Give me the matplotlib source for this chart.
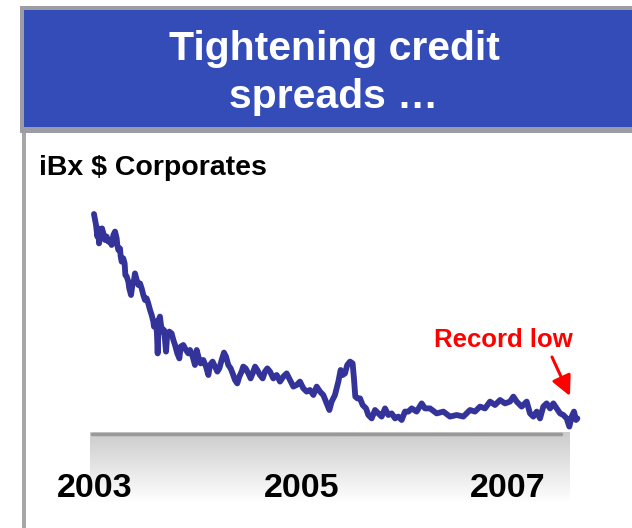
import numpy as np
import matplotlib
matplotlib.use("Agg")
import matplotlib.pyplot as plt
from matplotlib.patches import Rectangle

plt.rcParams['font.family'] = ['Liberation Sans', 'DejaVu Sans']

# iBx $ Corporates spread (bp)
dates = [2002.990, 2003.010, 2003.023, 2003.032, 2003.039, 2003.055, 2003.068, 2003.081,
         2003.097, 2003.113, 2003.129, 2003.145, 2003.161, 2003.178, 2003.194, 2003.210,
         2003.216, 2003.226, 2003.242, 2003.249, 2003.258, 2003.274, 2003.287, 2003.294,
         2003.307, 2003.323, 2003.332, 2003.349, 2003.362, 2003.378, 2003.387, 2003.404,
         2003.420, 2003.436, 2003.452, 2003.468, 2003.484, 2003.500, 2003.516, 2003.533,
         2003.549, 2003.565, 2003.571, 2003.591, 2003.600, 2003.607, 2003.617, 2003.629,
         2003.639, 2003.655, 2003.668, 2003.678, 2003.688, 2003.700, 2003.720, 2003.742,
         2003.759, 2003.775, 2003.797, 2003.817, 2003.830, 2003.855, 2003.881, 2003.904,
         2003.920, 2003.946, 2003.968, 2003.985, 2004.001, 2004.023, 2004.049, 2004.075,
         2004.098, 2004.114, 2004.139, 2004.162, 2004.185, 2004.204, 2004.227, 2004.249,
         2004.269, 2004.291, 2004.314, 2004.333, 2004.356, 2004.378, 2004.398, 2004.420,
         2004.436, 2004.459, 2004.485, 2004.507, 2004.527, 2004.550, 2004.572, 2004.598,
         2004.624, 2004.646, 2004.669, 2004.695, 2004.727, 2004.760, 2004.792, 2004.824,
         2004.856, 2004.889, 2004.921, 2004.953, 2004.985, 2005.018, 2005.050, 2005.082,
         2005.115, 2005.147, 2005.179, 2005.211, 2005.244, 2005.270, 2005.292, 2005.324,
         2005.357, 2005.379, 2005.398, 2005.421, 2005.443, 2005.470, 2005.495, 2005.508,
         2005.521, 2005.541, 2005.567, 2005.592, 2005.625, 2005.647, 2005.680, 2005.712,
         2005.744, 2005.776, 2005.809, 2005.841, 2005.873, 2005.906, 2005.938, 2005.970,
         2006.002, 2006.035, 2006.067, 2006.115, 2006.164, 2006.196, 2006.245, 2006.309,
         2006.374, 2006.438, 2006.503, 2006.567, 2006.632, 2006.680, 2006.729, 2006.777,
         2006.826, 2006.874, 2006.923, 2006.971, 2007.019, 2007.052, 2007.084, 2007.132,
         2007.181, 2007.213, 2007.245, 2007.278, 2007.310, 2007.342, 2007.374, 2007.407,
         2007.439, 2007.471, 2007.504, 2007.536, 2007.568, 2007.594, 2007.617, 2007.639,
         2007.659, 2007.672]
spread = [179.5, 174.0, 168.2, 172.3, 164.8, 170.7, 172.3, 169.8,
          166.5, 168.2, 165.7, 166.5, 164.0, 169.0, 170.7, 167.3,
          164.0, 161.5, 162.3, 158.2, 155.7, 157.3, 154.8, 149.0,
          148.2, 145.7, 142.3, 139.0, 144.0, 146.5, 149.8, 146.5,
          144.0, 144.8, 142.3, 139.0, 136.5, 137.3, 134.8, 131.5,
          129.0, 125.7, 123.2, 125.7, 119.8, 109.8, 126.5, 128.2,
          124.0, 120.7, 121.5, 116.5, 110.7, 119.8, 120.7, 119.8,
          116.5, 114.0, 109.8, 107.3, 113.2, 114.0, 111.5, 109.8,
          111.5, 108.2, 104.0, 111.5, 108.2, 104.8, 106.5, 103.2,
          99.0, 104.0, 105.7, 103.2, 100.7, 102.3, 106.5, 110.2,
          108.2, 104.0, 102.3, 99.8, 96.5, 94.8, 98.2, 100.7,
          103.2, 102.3, 99.8, 97.3, 99.8, 103.2, 101.5, 99.0,
          97.3, 100.7, 102.3, 100.7, 97.3, 99.0, 95.7, 98.2,
          99.8, 96.5, 93.2, 94.0, 95.7, 92.3, 90.7, 91.5,
          89.0, 93.2, 90.7, 89.0, 84.8, 81.5, 85.7, 89.0,
          95.7, 101.5, 99.0, 99.8, 104.0, 105.7, 104.8, 97.3,
          88.2, 87.3, 87.3, 84.0, 82.3, 79.0, 77.3, 81.5,
          79.8, 78.2, 82.3, 79.0, 79.8, 77.3, 78.2, 76.5,
          80.7, 80.7, 82.3, 80.7, 84.8, 82.3, 82.3, 79.8,
          80.7, 78.2, 79.0, 78.2, 81.5, 80.7, 83.2, 82.3,
          85.7, 84.0, 86.5, 84.8, 85.7, 88.2, 85.7, 83.2,
          85.7, 79.8, 78.2, 80.7, 77.3, 83.2, 84.8, 82.3,
          84.8, 82.3, 79.8, 79.0, 77.3, 73.2, 78.2, 80.7,
          76.5, 77.3]

year_ticks = [2003, 2005, 2007]
year_labels = ['2003', '2005', '2007']

title_lines = ['Tightening credit', 'spreads \u2026']
subtitle = 'iBx $ Corporates'
note = 'Record low'

W, H = 632, 528
fig = plt.figure(figsize=(W / 100, H / 100), dpi=100)

# background decoration, in pixel units
deco = fig.add_axes([0, 0, 1, 1])
deco.set_xlim(0, W)
deco.set_ylim(H, 0)
deco.axis('off')

deco.add_patch(Rectangle((20, 6), W, 127, facecolor='#9c9ca4', edgecolor='none'))
deco.add_patch(Rectangle((24, 10), W, 117, facecolor='#334cb7', edgecolor='none'))
deco.add_patch(Rectangle((22, 133), 3.5, H, facecolor='#a6a6a6', edgecolor='none'))

deco.text(334, 60, title_lines[0], color='white', fontsize=29.5, fontweight='bold',
          ha='center', va='baseline')
deco.text(334, 108, title_lines[1], color='white', fontsize=29.5, fontweight='bold',
          ha='center', va='baseline')
deco.text(39, 175, subtitle, color='black', fontsize=20.5, fontweight='bold',
          ha='left', va='baseline')

# shaded floor under the axis
grad = np.linspace(0.80, 1.0, 64)
rgb = np.dstack([grad, grad, grad]).reshape(64, 1, 3)
deco.imshow(rgb, extent=[90, 570, 503, 432], origin='upper', aspect='auto',
            interpolation='bilinear', zorder=1)
deco.plot([92, 561], [433.5, 433.5], color='#999999', lw=2.5,
          solid_capstyle='round', zorder=2)

# data axes
ax = fig.add_axes([90 / W, (H - 433) / H, 490 / W, 233 / H])
ax.patch.set_alpha(0)
ax.set_xlim(2002.9516, 2007.6973)
ax.set_ylim(70, 186.5)
for s in ax.spines.values():
    s.set_visible(False)
ax.set_yticks([])
ax.set_xticks(year_ticks)
ax.set_xticklabels(year_labels, fontsize=24.5, fontweight='bold')
ax.tick_params(axis='x', length=0, pad=29)

ax.plot(dates, spread, color='#333399', lw=4.2, solid_joinstyle='round',
        solid_capstyle='round', clip_on=False, zorder=5)

ax.text(2006.952, 113, note, color='#ff0000', fontsize=18.5, fontweight='bold',
        ha='center', va='baseline')
ax.annotate('', xy=(2007.60, 88.5), xytext=(2007.426, 108),
            arrowprops=dict(arrowstyle='-|>', color='#ff0000', lw=2.2,
                            mutation_scale=30, shrinkA=0, shrinkB=0))

fig.savefig('out.png', dpi=100)
